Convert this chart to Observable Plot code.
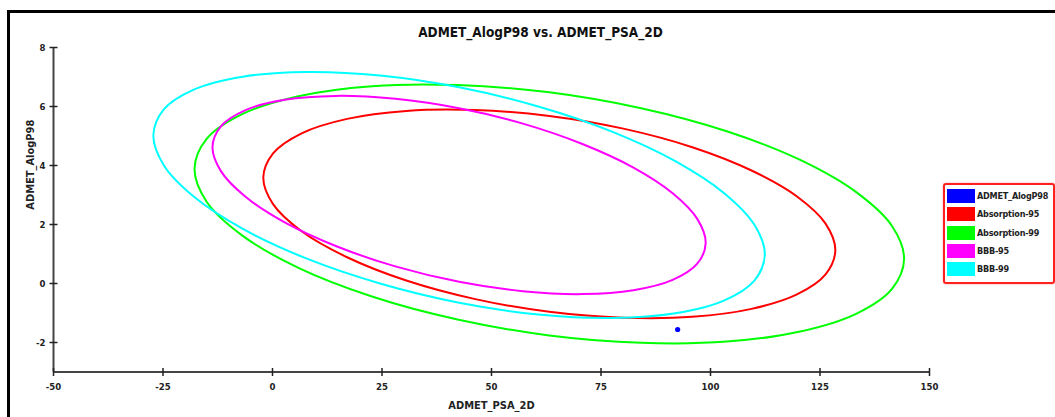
<!DOCTYPE html>
<html>
<head>
<meta charset="utf-8">
<script src="https://cdn.jsdelivr.net/npm/d3@7"></script>
<script src="https://cdn.jsdelivr.net/npm/@observablehq/plot@0.6"></script>
<style>
  html, body { margin: 0; padding: 0; background: #fff; }
  #wrap { position: relative; width: 1055px; height: 417px; overflow: hidden; }
  #frame { position: absolute; left: 7px; top: 10px; width: 1100px; height: 500px;
           border-top: 3px solid #000; border-left: 3px solid #000; pointer-events: none; }
  #legend { position: absolute; left: 943px; top: 183px; width: 112px; height: 101px;
            border: 2px solid #ff2020; border-radius: 3px; box-shadow: 0 0 2px #ff9090;
            box-sizing: border-box; font-family: "DejaVu Sans Condensed", "DejaVu Sans", sans-serif;
            font-size: 9px; font-weight: bold; color: #222; letter-spacing: -0.2px; }
  .item { position: absolute; left: 2px; height: 14px; display: flex; align-items: center; white-space: nowrap; }
  .sw { width: 28px; height: 14px; margin-right: 2px; }
  #chart svg { position: absolute; left: 0; top: 0; }
</style>
</head>
<body>
<div id="wrap">
  <div id="chart"></div>
  <div id="frame"></div>
  <div id="legend"></div>
</div>
<script>
// ---- data ----
const chartTitle = "ADMET_AlogP98 vs. ADMET_PSA_2D";
const xTitle = "ADMET_PSA_2D";
const yTitle = "ADMET_AlogP98";
const xDomain = [-50, 150];
const yDomain = [-3, 8];
const xTicks = [-50, -25, 0, 25, 50, 75, 100, 125, 150];
const yTicks = [-2, 0, 2, 4, 6, 8];

const seriesNames  = ["ADMET_AlogP98", "Absorption-95", "Absorption-99", "BBB-95", "BBB-99"];
const seriesColors = ["#0000ff", "#ff0000", "#00ff00", "#ff00ff", "#00ffff"];

// compound
const compoundPSA   = [92.5];
const compoundAlogP = [-1.56];

// Absorption-95 ellipse (points read around the outline)
const abs95PSA   = [128.5, 126.27, 119.75, 109.37, 95.85, 80.1, 63.2, 46.3, 30.55, 17.03, 6.65, 0.13, -2.1, 0.13, 6.65, 17.03, 30.55, 46.3, 63.2, 80.1, 95.85, 109.37, 119.75, 126.27];
const abs95AlogP = [1.13, 2.03, 2.95, 3.83, 4.62, 5.25, 5.68, 5.88, 5.85, 5.58, 5.09, 4.41, 3.59, 2.69, 1.77, 0.89, 0.10, -0.53, -0.96, -1.16, -1.13, -0.86, -0.37, 0.31];

// Absorption-99 ellipse
const abs99PSA   = [144.2, 141.44, 133.35, 120.48, 103.7, 84.16, 63.2, 42.24, 22.7, 5.92, -6.95, -15.04, -17.8, -15.04, -6.95, 5.92, 22.7, 42.24, 63.2, 84.16, 103.7, 120.48, 133.35, 141.44];
const abs99AlogP = [0.83, 1.95, 3.09, 4.19, 5.16, 5.94, 6.48, 6.73, 6.69, 6.35, 5.74, 4.90, 3.89, 2.77, 1.63, 0.53, -0.44, -1.22, -1.76, -2.01, -1.97, -1.63, -1.02, -0.18];

// BBB-95 ellipse
const bbb95PSA   = [98.9, 96.98, 91.36, 82.41, 70.75, 57.17, 42.6, 28.03, 14.45, 2.79, -6.16, -11.78, -13.7, -11.78, -6.16, 2.79, 14.45, 28.03, 42.6, 57.17, 70.75, 82.41, 91.36, 96.98];
const bbb95AlogP = [1.37, 2.19, 3.06, 3.93, 4.73, 5.42, 5.94, 6.26, 6.36, 6.23, 5.88, 5.33, 4.63, 3.81, 2.94, 2.07, 1.27, 0.58, 0.06, -0.26, -0.36, -0.23, 0.12, 0.67];

// BBB-99 ellipse
const bbb99PSA   = [112.4, 110.02, 103.05, 91.96, 77.5, 60.66, 42.6, 24.54, 7.7, -6.76, -17.85, -24.82, -27.2, -24.82, -17.85, -6.76, 7.7, 24.54, 42.6, 60.66, 77.5, 91.96, 103.05, 110.02];
const bbb99AlogP = [0.98, 1.99, 3.07, 4.15, 5.15, 6.00, 6.65, 7.05, 7.17, 7.01, 6.58, 5.90, 5.02, 4.01, 2.93, 1.85, 0.85, 0.00, -0.65, -1.05, -1.17, -1.01, -0.58, 0.10];

// ---- build tables ----
const ellipseDefs = [
  {name: seriesNames[1], xs: abs95PSA, ys: abs95AlogP},
  {name: seriesNames[2], xs: abs99PSA, ys: abs99AlogP},
  {name: seriesNames[3], xs: bbb95PSA, ys: bbb95AlogP},
  {name: seriesNames[4], xs: bbb99PSA, ys: bbb99AlogP}
];
const colorOf = Object.fromEntries(seriesNames.map((n, i) => [n, seriesColors[i]]));
const compound = compoundPSA.map((x, i) => ({x, y: compoundAlogP[i]}));

const font = '"DejaVu Sans Condensed", "DejaVu Sans", sans-serif';

// custom symbols for ticks crossing the axis lines
const vTick = {draw(ctx, size) { const r = Math.sqrt(size / Math.PI); ctx.moveTo(0, -r); ctx.lineTo(0, r); }};
const hTick = {draw(ctx, size) { const r = Math.sqrt(size / Math.PI); ctx.moveTo(-r, 0); ctx.lineTo(r, 0); }};

const marks = [
  // axis lines
  Plot.ruleY([yDomain[0]], {x1: xDomain[0], x2: xDomain[1], stroke: "#444", strokeWidth: 2.2}),
  Plot.ruleX([xDomain[0]], {y1: yDomain[0], y2: yTicks[yTicks.length - 1], stroke: "#444", strokeWidth: 2}),
  // ticks
  Plot.dot(xTicks, {x: d => d, y: () => yDomain[0], symbol: vTick, r: 4, stroke: "#222", strokeWidth: 1.5, fill: "none"}),
  Plot.dot(yTicks, {x: () => xDomain[0], y: d => d, symbol: hTick, r: 4, stroke: "#222", strokeWidth: 1.5, fill: "none"}),
  // tick labels
  Plot.text(xTicks, {x: d => d, y: () => yDomain[0], dy: 15, text: d => String(d), fontSize: 9.5, fontFamily: font, fontWeight: "bold", fill: "#222"}),
  Plot.text(yTicks, {x: () => xDomain[0], y: d => d, dx: -8, textAnchor: "end", text: d => String(d), fontSize: 9.5, fontFamily: font, fontWeight: "bold", fill: "#222"}),
  // axis titles
  Plot.text([xTitle], {frameAnchor: "bottom", dy: 37, text: d => d, fontSize: 11, fontFamily: font, fontWeight: "bold", fill: "#222"}),
  Plot.text([yTitle], {frameAnchor: "left", dx: -23, rotate: -90, text: d => d, fontSize: 11, fontFamily: font, fontWeight: "bold", fill: "#222"}),
  // chart title
  Plot.text([chartTitle], {frameAnchor: "top", dy: -20, dx: 49, text: d => d, fontSize: 13.5, fontFamily: font, fontWeight: "bold", fill: "#111"})
];

for (const e of ellipseDefs) {
  const rows = e.xs.map((x, i) => ({x, y: e.ys[i]}));
  marks.push(Plot.line(rows, {x: "x", y: "y", curve: "catmull-rom-closed", stroke: colorOf[e.name], strokeWidth: 2}));
}
marks.push(Plot.dot(compound, {x: "x", y: "y", r: 2.6, fill: colorOf[seriesNames[0]], stroke: "none"}));

const chart = Plot.plot({
  width: 1055,
  height: 417,
  marginLeft: 53,
  marginRight: 126,
  marginTop: 47,
  marginBottom: 45.5,
  x: {domain: xDomain, axis: null},
  y: {domain: yDomain, axis: null},
  style: {background: "transparent", overflow: "visible"},
  marks
});
document.getElementById("chart").appendChild(chart);

// legend
const legend = document.getElementById("legend");
seriesNames.forEach((n, i) => {
  const it = document.createElement("div");
  it.className = "item";
  it.style.top = (4 + i * 18.3) + "px";
  const sw = document.createElement("div");
  sw.className = "sw";
  sw.style.background = seriesColors[i];
  const tx = document.createElement("span");
  tx.textContent = n;
  it.appendChild(sw);
  it.appendChild(tx);
  legend.appendChild(it);
});
</script>
</body>
</html>
